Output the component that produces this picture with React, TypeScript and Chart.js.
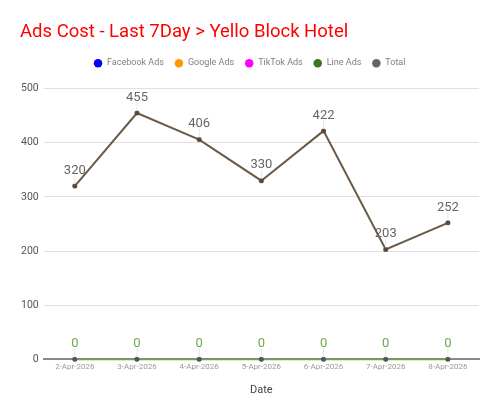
import React, { useEffect, useRef } from "react";
import { Chart, registerables } from "chart.js";

Chart.register(...registerables);

const dates = ["2-Apr-2026", "3-Apr-2026", "4-Apr-2026", "5-Apr-2026", "6-Apr-2026", "7-Apr-2026", "8-Apr-2026"];
const facebookAds = [0, 0, 0, 0, 0, 0, 0];
const googleAds = [0, 0, 0, 0, 0, 0, 0];
const tiktokAds = [0, 0, 0, 0, 0, 0, 0];
const lineAds = [0, 0, 0, 0, 0, 0, 0];
const total = [320, 455, 406, 330, 422, 203, 252];

const labelPlugin = {
  id: "valueLabels",
  beforeLayout(chart: any) {
    const lg = chart.legend;
    if (lg && !lg.__patched) {
      const orig = lg.fit;
      lg.fit = function () {
        orig.call(this);
        this.height += 11;
      };
      lg.__patched = true;
    }
  },
  afterDatasetsDraw(chart: any) {
    const ctx = chart.ctx;
    chart.data.datasets.forEach((ds: any, i: number) => {
      if (!ds.showLabels) return;
      const meta = chart.getDatasetMeta(i);
      meta.data.forEach((pt: any, j: number) => {
        const x = pt.x;
        const y = pt.y;
        ctx.save();
        ctx.strokeStyle = "#e6e6e6";
        ctx.lineWidth = 1;
        ctx.beginPath();
        ctx.moveTo(x, y - 2);
        ctx.lineTo(x, y - 11);
        ctx.stroke();
        ctx.fillStyle = ds.labelColor;
        ctx.font = "13px Roboto";
        ctx.textAlign = "center";
        ctx.textBaseline = "bottom";
        ctx.fillText(String(ds.data[j]), x, y - 9);
        ctx.restore();
      });
    });
  },
};

export default function App() {
  const ref = useRef<HTMLCanvasElement>(null);
  useEffect(() => {
    document.body.style.margin = "0";
    const mk = (label: string, data: number[], legendColor: string, lineColor: string, order: number, extra: any = {}) => ({
      label,
      data,
      legendColor,
      order,
      clip: false,
      borderColor: lineColor,
      backgroundColor: legendColor,
      pointBackgroundColor: "#555555",
      pointBorderColor: "#555555",
      pointRadius: 1.5,
      borderWidth: 1,
      tension: 0,
      ...extra,
    });
    const chart = new Chart(ref.current!, {
      type: "line",
      data: {
        labels: dates,
        datasets: [
          mk("Facebook Ads", facebookAds, "#0000ff", "#0000ff", 4),
          mk("Google Ads", googleAds, "#ff9900", "#ff9900", 3),
          mk("TikTok Ads", tiktokAds, "#ff00ff", "#ff00ff", 2),
          mk("Line Ads", lineAds, "#38761d", "#6aa84f", 0, { borderWidth: 2, showLabels: true, labelColor: "#6aa84f" }),
          mk("Total", total, "#666666", "#6b5a46", 1, {
            borderWidth: 2,
            showLabels: true,
            labelColor: "#666666",
            pointBackgroundColor: "#5a4a38",
            pointBorderColor: "#5a4a38",
          }),
        ] as any,
      },
      options: {
        animation: false,
        responsive: false,
        layout: { padding: { left: 20, right: 21, top: 0, bottom: 18 } },
        plugins: {
          title: {
            display: true,
            text: "Ads Cost - Last 7Day > Yello Block Hotel",
            align: "start",
            color: "#ff0000",
            font: { family: "Roboto", size: 18.5, weight: "normal" },
            padding: { top: 21, bottom: 5 },
          },
          legend: {
            labels: {
              usePointStyle: true,
              pointStyle: "circle",
              boxWidth: 9,
              boxHeight: 6,
              color: "#808080",
              font: { family: "Roboto", size: 9 },
              padding: 10.5,
              sort: (a: any, b: any) => a.datasetIndex - b.datasetIndex,
              generateLabels: (chart: any) => {
                const items = Chart.defaults.plugins.legend.labels.generateLabels(chart);
                items.forEach((it: any) => {
                  const c = chart.data.datasets[it.datasetIndex].legendColor;
                  it.fillStyle = c;
                  it.strokeStyle = c;
                  it.lineWidth = 0;
                });
                return items;
              },
            },
          },
          tooltip: { enabled: false },
        },
        scales: {
          x: {
            offset: true,
            grid: { display: false, drawTicks: false },
            border: { color: "#888888", width: 2 },
            ticks: { color: "#999999", font: { family: "Roboto", size: 8 }, maxRotation: 0, padding: 3 },
            title: { display: true, text: "Date", color: "#444444", font: { family: "Roboto", size: 11 }, padding: { top: 9, bottom: 0 } },
          },
          y: {
            min: 0,
            max: 500,
            afterFit: (scale: any) => {
              scale.width -= 4;
            },
            ticks: { stepSize: 100, color: "#555555", font: { family: "Roboto", size: 10.5, weight: "normal" }, padding: 5 },
            grid: { color: "#e0e0e0", lineWidth: 1, drawTicks: false },
            border: { display: false },
          },
        },
      } as any,
      plugins: [labelPlugin],
    });
    return () => chart.destroy();
  }, []);
  return (
    <div style={{ width: 500, height: 415, background: "#fff" }}>
      <canvas ref={ref} width={500} height={415} style={{ width: 500, height: 415 }} />
    </div>
  );
}
